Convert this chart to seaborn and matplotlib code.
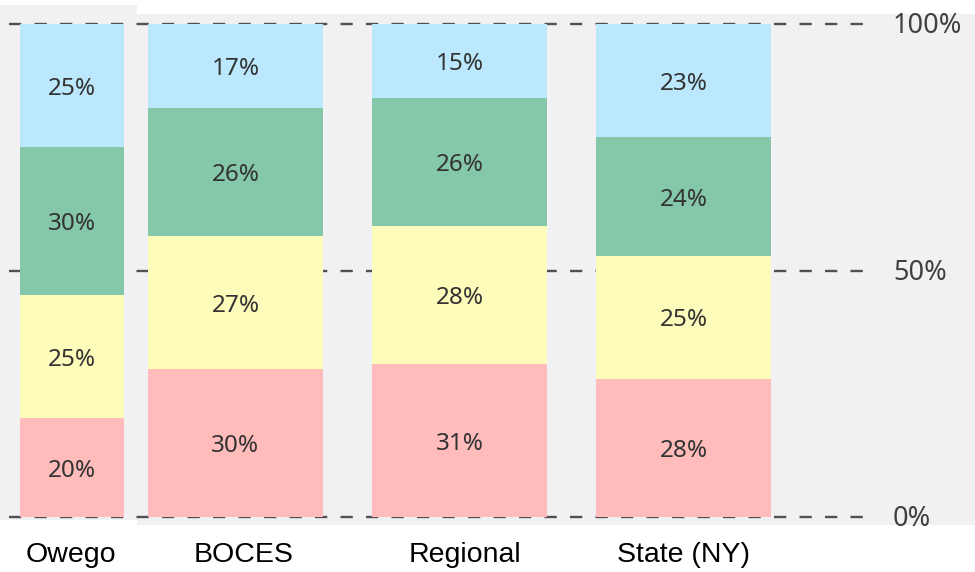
import pandas as pd
import seaborn as sns
import matplotlib.pyplot as plt
from matplotlib.patches import Rectangle

# Share of students per band, bottom to top (pink, yellow, green, blue)
categories = ['Owego', 'BOCES', 'Regional', 'State (NY)']
band_1 = [20, 30, 31, 28]
band_2 = [25, 27, 28, 25]
band_3 = [30, 26, 26, 24]
band_4 = [25, 17, 15, 23]
ref_ticks = [0, 50, 100]
ref_labels = ['0%', '50%', '100%']

bands = [band_1, band_2, band_3, band_4]
colors = ['#ffbcbb', '#fefcbb', '#85c7a9', '#bbe8fc']
bg = '#f1f1f4'

df = pd.DataFrame({'category': categories})
for i, b in enumerate(bands):
    df[f'b{i}'] = b
# cumulative tops so that the stacks can be drawn from the top down
cum = df[[f'b{i}' for i in range(4)]].cumsum(axis=1)

sns.set_theme(style='white')
plt.rcParams['font.family'] = ['Noto Sans', 'DejaVu Sans']

fig = plt.figure(figsize=(9.75, 5.72), dpi=100)
W, H = 975, 572
ax = fig.add_axes([0, (H - 525) / H, 1, (525 - 14) / H])
ax.set_facecolor(bg)

# the Owego panel sticks out a bit at the top and ends a bit higher
fig.patches.append(Rectangle((0, 1 - 14 / H), 137 / W, 9 / H, transform=fig.transFigure,
                             facecolor=bg, edgecolor='none', zorder=0))

# dashed reference lines, behind the bars
for t in ref_ticks:
    ax.plot([-0.011, 3.819], [t, t], color='#505050', lw=1.7,
            dashes=(5.2, 5.6), zorder=1, solid_capstyle='butt')

for i in range(3, -1, -1):
    sns.barplot(x=df['category'], y=cum[f'b{i}'], color=colors[i], ax=ax,
                width=0.78, saturation=1, order=categories, zorder=2)

# Owego bar comes from a narrower panel
for p in ax.patches:
    if abs(p.get_x() + p.get_width() / 2) < 0.01:
        p.set_width(0.464)
        p.set_x(0.270 - 0.232)
    p.set_edgecolor('none')

fig.patches.append(Rectangle((0, 1 - 525 / H), 137 / W, 5 / H, transform=fig.transFigure,
                             facecolor='white', edgecolor='none', zorder=5))

centers = [0.270, 1, 2, 3]
for j, cat in enumerate(categories):
    bottom = 0
    for i in range(4):
        v = bands[i][j]
        ax.text(centers[j], bottom + v / 2 - 0.6, f'{v}%', ha='center', va='center',
                fontsize=17.5, color='#333333', zorder=3)
        bottom += v

for t, lab in zip(ref_ticks, ref_labels):
    ax.text(3.935, t - 0.5, lab, ha='left', va='center', fontsize=19.5, color='#404040')

ax.set_xlim(-11.5 / 224, (975 - 11.5) / 224)
ax.set_ylim(-1.62, 102.03)
ax.set_yticks([])
ax.set_ylabel('')
ax.set_xlabel('')
ax.set_xticks([0.265, 1.035, 2.025, 3.0])
ax.set_xticklabels(categories, fontsize=20.5, color='black', family=['Liberation Sans'])
ax.tick_params(axis='x', length=0, pad=12)
for s in ax.spines.values():
    s.set_visible(False)

fig.savefig('out.png', dpi=100, facecolor='white')
